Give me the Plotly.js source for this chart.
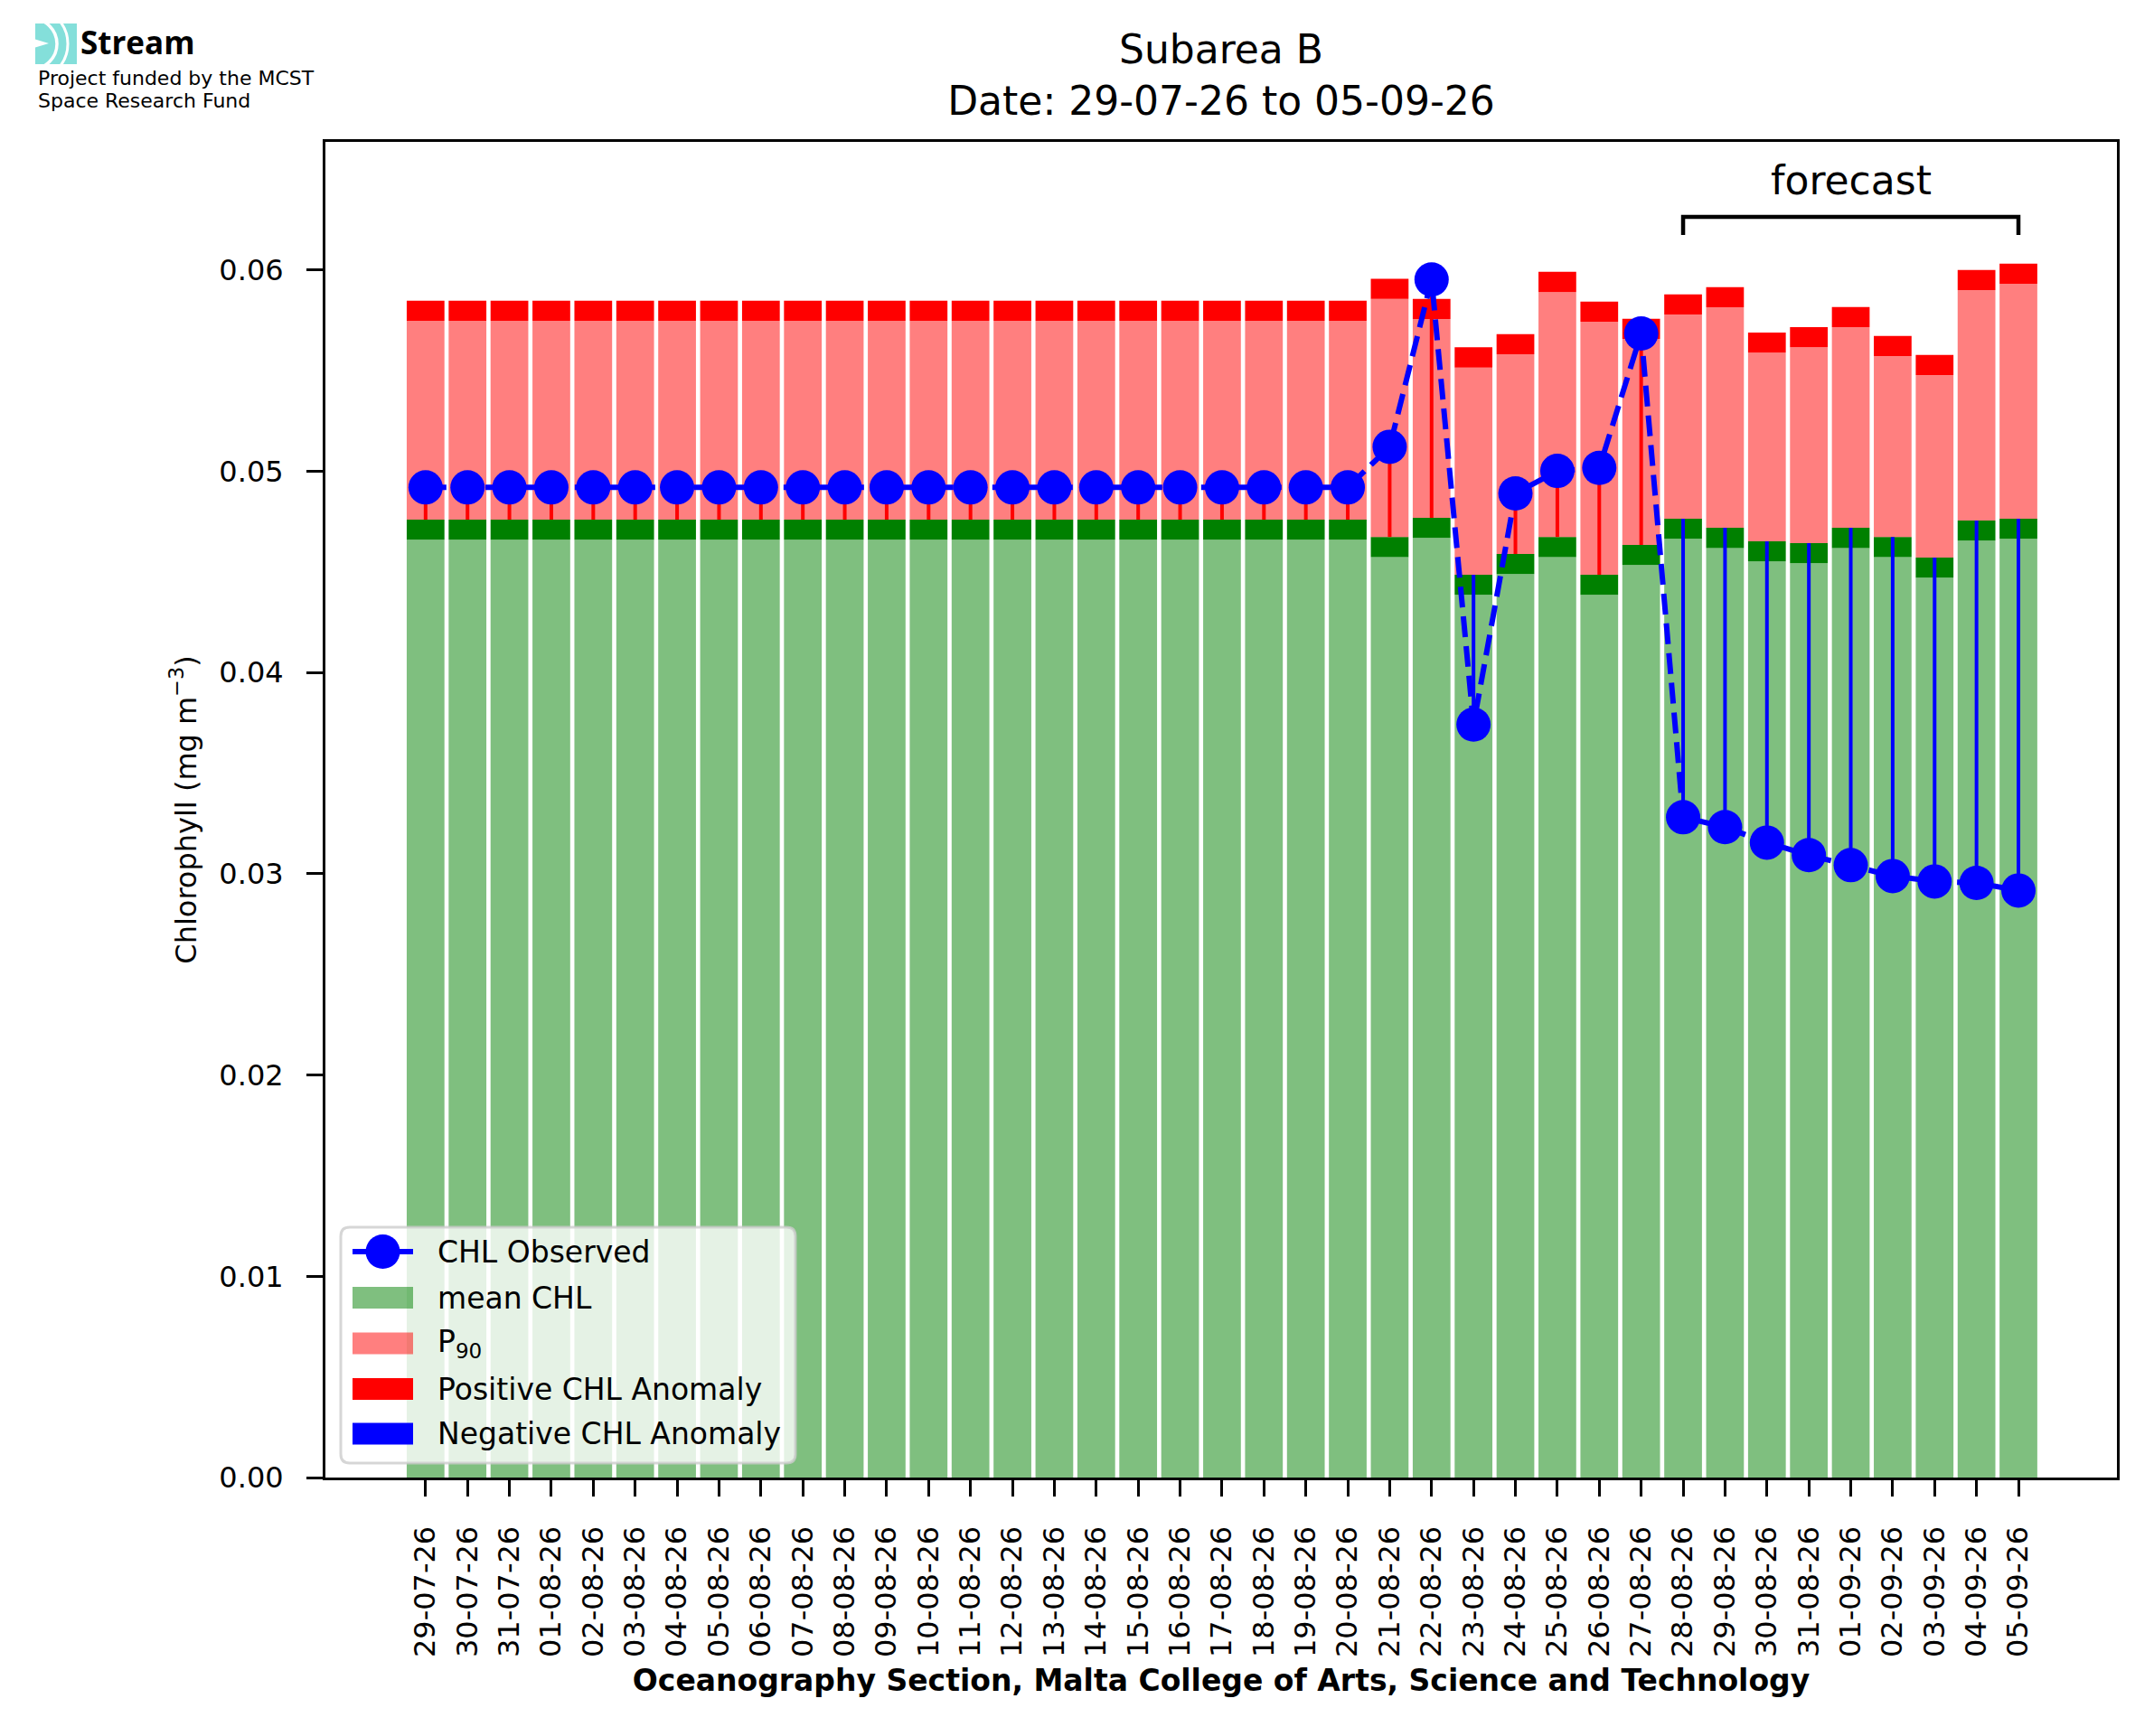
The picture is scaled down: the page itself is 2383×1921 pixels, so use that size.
<!DOCTYPE html>
<html>
<head>
<meta charset="utf-8">
<script src="https://cdn.plot.ly/plotly-3.0.1.min.js"></script>
<style>html,body{margin:0;padding:0;background:#fff;}#chart{width:2383px;height:1921px;}</style>
</head>
<body>
<div id="chart"></div>
<script>
// ---------------- data ----------------
const dates = ['29-07-26','30-07-26','31-07-26','01-08-26','02-08-26','03-08-26','04-08-26','05-08-26','06-08-26','07-08-26',
  '08-08-26','09-08-26','10-08-26','11-08-26','12-08-26','13-08-26','14-08-26','15-08-26','16-08-26','17-08-26',
  '18-08-26','19-08-26','20-08-26','21-08-26','22-08-26','23-08-26','24-08-26','25-08-26','26-08-26','27-08-26',
  '28-08-26','29-08-26','30-08-26','31-08-26','01-09-26','02-09-26','03-09-26','04-09-26','05-09-26'];

const meanCHL = [0.0476,0.0476,0.0476,0.0476,0.0476,0.0476,0.0476,0.0476,0.0476,0.0476,
  0.0476,0.0476,0.0476,0.0476,0.0476,0.0476,0.0476,0.0476,0.0476,0.0476,
  0.0476,0.0476,0.0476,0.04674,0.04769,0.04486,0.04589,0.04674,0.04486,0.04634,
  0.04764,0.04719,0.04652,0.04643,0.04719,0.04674,0.04571,0.04755,0.04764];

const p90CHL = [0.05748,0.05748,0.05748,0.05748,0.05748,0.05748,0.05748,0.05748,0.05748,0.05748,
  0.05748,0.05748,0.05748,0.05748,0.05748,0.05748,0.05748,0.05748,0.05748,0.05748,
  0.05748,0.05748,0.05748,0.05857,0.05757,0.05516,0.05582,0.05891,0.05743,0.05658,
  0.05779,0.05815,0.0559,0.05617,0.05716,0.05573,0.05478,0.059,0.05932];

const observedCHL = [0.0492,0.0492,0.0492,0.0492,0.0492,0.0492,0.0492,0.0492,0.0492,0.0492,
  0.0492,0.0492,0.0492,0.0492,0.0492,0.0492,0.0492,0.0492,0.0492,0.0492,
  0.0492,0.0492,0.0492,0.05122,0.05953,0.03742,0.0489,0.05002,0.05017,0.05685,
  0.03281,0.03232,0.03155,0.03093,0.03043,0.02989,0.02962,0.02955,0.02917];

const forecastStart = '28-08-26';
const yTicks = [0, 0.01, 0.02, 0.03, 0.04, 0.05, 0.06];

// ---------------- layout helpers (pixel geometry) ----------------
const W = 2383, H = 1921;
const PL = 360, PR = 2342, PT = 157, PB = 1635;
const PW = PR - PL, PH = PB - PT;
const px = v => (v - PL) / PW;
const py = v => (PB - v) / PH;
const band = 0.001; // thickness of the indicator bands

const FONT = 'DejaVu Sans';
const cLight = 'rgba(0,128,0,0.5)';
const cDark = '#008000';
const cPink = 'rgba(255,0,0,0.5)';
const cRed = '#ff0000';
const cBlue = '#0000ff';

// ---------------- traces ----------------
const lightTop = meanCHL.map(m => m - band);
const traces = [];
traces.push({type:'bar', name:'mean CHL', x:dates, y:lightTop, base:dates.map(()=>0), width:0.9,
  marker:{color:cLight, line:{width:0}}, showlegend:false, hoverinfo:'skip'});
traces.push({type:'bar', name:'mean band', x:dates, y:dates.map(()=>band), base:lightTop, width:0.9,
  marker:{color:cDark, line:{width:0}}, showlegend:false, hoverinfo:'skip'});
traces.push({type:'bar', name:'P90', x:dates, y:p90CHL.map((p,i)=>p-meanCHL[i]), base:meanCHL, width:0.9,
  marker:{color:cPink, line:{width:0}}, showlegend:false, hoverinfo:'skip'});
traces.push({type:'bar', name:'Positive CHL Anomaly', x:dates, y:dates.map(()=>band), base:p90CHL, width:0.9,
  marker:{color:cRed, line:{width:0}}, showlegend:false, hoverinfo:'skip'});

const posX = [], posY = [], negX = [], negY = [];
dates.forEach((d,i) => {
  if (observedCHL[i] >= meanCHL[i]) { posX.push(d,d,null); posY.push(meanCHL[i], observedCHL[i], null); }
  else { negX.push(d,d,null); negY.push(meanCHL[i], observedCHL[i], null); }
});
traces.push({type:'scatter', mode:'lines', name:'positive stems', x:posX, y:posY,
  line:{color:cRed, width:4}, showlegend:false, hoverinfo:'skip', connectgaps:false});
traces.push({type:'scatter', mode:'lines', name:'Negative CHL Anomaly', x:negX, y:negY,
  line:{color:cBlue, width:4}, showlegend:false, hoverinfo:'skip', connectgaps:false});
traces.push({type:'scatter', mode:'lines+markers', name:'CHL Observed', x:dates, y:observedCHL,
  line:{color:cBlue, width:6, dash:'23px,10px'}, marker:{color:cBlue, size:38, line:{width:0}},
  showlegend:false, hoverinfo:'skip'});

// ---------------- shapes & annotations ----------------
const shapes = [];
const annotations = [];

// forecast bracket
const fs = dates.indexOf(forecastStart), fe = dates.length - 1;
shapes.push({type:'path', xref:'x', yref:'y', layer:'above',
  path:`M ${fs},0.06174 L ${fs},0.06264 L ${fe},0.06264 L ${fe},0.06174`,
  line:{color:'black', width:4.5}});
annotations.push({xref:'x', yref:'y', x:(fs+fe)/2, y:0.06444, text:'forecast', showarrow:false,
  xanchor:'center', yanchor:'middle', font:{family:FONT, size:44, color:'black'}});

// custom legend (drawn like matplotlib)
function roundRect(x0,y0,x1,y1,r){
  const X = v=>px(v).toFixed(6), Y = v=>py(v).toFixed(6);
  return `M ${X(x0+r)},${Y(y0)} L ${X(x1-r)},${Y(y0)} Q ${X(x1)},${Y(y0)} ${X(x1)},${Y(y0+r)} ` +
    `L ${X(x1)},${Y(y1-r)} Q ${X(x1)},${Y(y1)} ${X(x1-r)},${Y(y1)} L ${X(x0+r)},${Y(y1)} ` +
    `Q ${X(x0)},${Y(y1)} ${X(x0)},${Y(y1-r)} L ${X(x0)},${Y(y0+r)} Q ${X(x0)},${Y(y0)} ${X(x0+r)},${Y(y0)} Z`;
}
shapes.push({type:'path', xref:'paper', yref:'paper', layer:'above', path:roundRect(377,1358,880,1619,10),
  fillcolor:'rgba(255,255,255,0.8)', line:{color:'rgba(204,204,204,0.8)', width:3}});

const legItems = [
  {label:'CHL Observed', kind:'line', y:1385},
  {label:'mean CHL', kind:'patch', color:cLight, y:1436},
  {label:'P<sub>90</sub>', kind:'patch', color:cPink, y:1486.5},
  {label:'Positive CHL Anomaly', kind:'patch', color:cRed, y:1537},
  {label:'Negative CHL Anomaly', kind:'patch', color:cBlue, y:1586.5}
];
legItems.forEach(it => {
  if (it.kind === 'line') {
    shapes.push({type:'line', xref:'paper', yref:'paper', layer:'above', x0:px(390), x1:px(457), y0:py(it.y), y1:py(it.y),
      line:{color:cBlue, width:6}});
    shapes.push({type:'circle', xref:'paper', yref:'paper', layer:'above', x0:px(404.5), x1:px(442.5), y0:py(it.y+19), y1:py(it.y-19),
      fillcolor:cBlue, line:{width:0}});
  } else {
    shapes.push({type:'rect', xref:'paper', yref:'paper', layer:'above', x0:px(390), x1:px(457), y0:py(it.y+12), y1:py(it.y-12),
      fillcolor:it.color, line:{width:0}});
  }
  annotations.push({xref:'paper', yref:'paper', x:px(482), y:py(it.y), text:it.label, showarrow:false,
    xanchor:'left', yanchor:'middle', font:{family:FONT, size:33, color:'black'}});
});

// logo texts
annotations.push({xref:'paper', yref:'paper', x:px(87), y:py(47), text:'<b>Stream</b>', showarrow:false,
  xanchor:'left', yanchor:'middle', font:{family:'Open Sans', size:35, color:'black'}});
annotations.push({xref:'paper', yref:'paper', x:px(40), y:py(86), text:'Project funded by the MCST', showarrow:false,
  xanchor:'left', yanchor:'middle', font:{family:FONT, size:22, color:'black'}});
annotations.push({xref:'paper', yref:'paper', x:px(40), y:py(112), text:'Space Research Fund', showarrow:false,
  xanchor:'left', yanchor:'middle', font:{family:FONT, size:22, color:'black'}});

const iconSvg = "<svg xmlns='http://www.w3.org/2000/svg' width='46' height='45' viewBox='0 0 46 45'>" +
  "<defs><clipPath id='c'><rect width='46' height='45'/></clipPath></defs><g clip-path='url(#c)'>" +
  "<rect width='46' height='45' fill='#84dfda'/>" +
  "<circle cx='-4' cy='22.5' r='28' fill='none' stroke='#fff' stroke-width='3.5'/>" +
  "<circle cx='-4' cy='22.5' r='40' fill='none' stroke='#fff' stroke-width='3'/>" +
  "<polygon points='0,17.5 15,22 0,26.5' fill='#fff'/></g></svg>";
const images = [{source:'data:image/svg+xml;charset=utf-8,' + encodeURIComponent(iconSvg),
  xref:'paper', yref:'paper', x:px(39), y:py(26), sizex:46/PW, sizey:45/PH,
  xanchor:'left', yanchor:'top', sizing:'stretch', layer:'above'}];

const layout = {
  width: W, height: H,
  paper_bgcolor:'white', plot_bgcolor:'white',
  margin:{l:PL, r:W-PR, t:PT, b:H-PB, pad:0},
  font:{family:FONT, color:'black'},
  barmode:'overlay',
  showlegend:false,
  title:{text:'Subarea B<br>Date: 29-07-26 to 05-09-26', font:{family:FONT, size:44, color:'black'},
    x:0.5, xref:'paper', xanchor:'center', y:1-70/H, yref:'container', yanchor:'middle'},
  xaxis:{type:'category', range:[-2.39, 40.35], autorange:false,
    showline:true, linecolor:'black', linewidth:3, mirror:true,
    ticks:'outside', ticklen:18, tickwidth:3, tickcolor:'black', ticklabelstandoff:20,
    tickangle:-90, tickfont:{family:FONT, size:32, color:'black'},
    showgrid:false, zeroline:false,
    title:{text:'<b>Oceanography Section, Malta College of Arts, Science and Technology</b>',
      font:{family:FONT, size:33, color:'black'}, standoff:15}},
  yaxis:{range:[0, 0.06637], autorange:false,
    tickvals:yTicks, tickformat:'.2f',
    showline:true, linecolor:'black', linewidth:3, mirror:true,
    ticks:'outside', ticklen:18, tickwidth:3, tickcolor:'black', ticklabelstandoff:19,
    tickfont:{family:FONT, size:32, color:'black'},
    showgrid:false, zeroline:false,
    title:{text:'Chlorophyll (mg m<sup>−3</sup>)', font:{family:FONT, size:32, color:'black'}, standoff:16}},
  shapes: shapes,
  annotations: annotations,
  images: images
};

Plotly.newPlot('chart', traces, layout, {displayModeBar:false, staticPlot:true});
</script>
</body>
</html>
